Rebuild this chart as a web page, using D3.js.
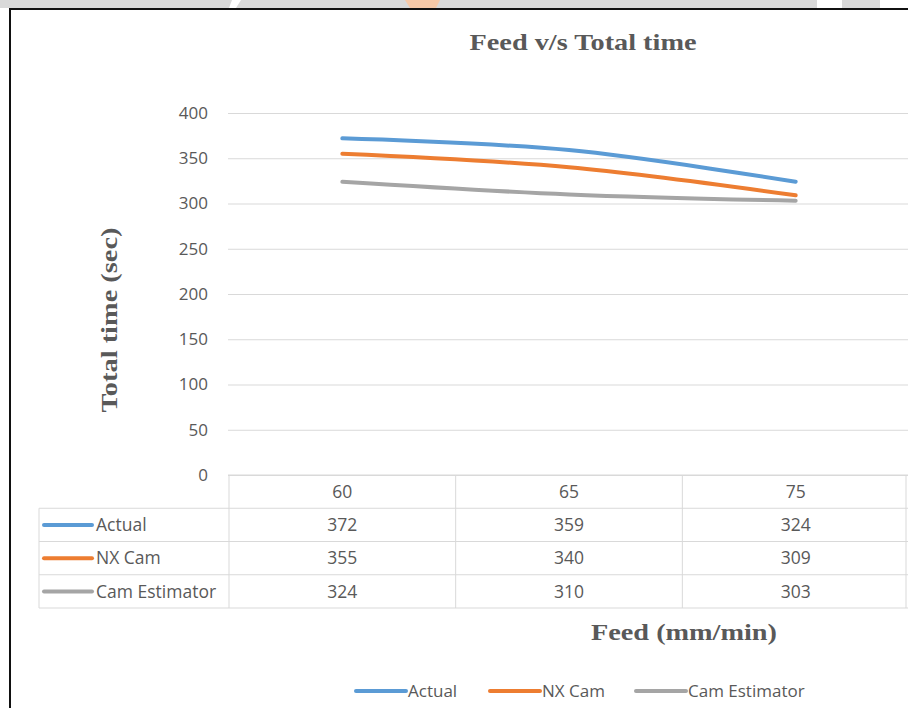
<!DOCTYPE html>
<html>
<head>
<meta charset="utf-8">
<script src="https://cdn.jsdelivr.net/npm/d3@7"></script>
<style>
  body { margin: 0; background: #fff; }
  svg { display: block; }
  .tick text { font-family: "Open Sans", sans-serif; font-size: 17px; fill: #595959; }
</style>
</head>
<body>
<div id="chart"></div>
<script>
const categories = ["60", "65", "75"];
const seriesNames = ["Actual", "NX Cam", "Cam Estimator"];
const actual = [372, 359, 324];
const nxCam = [355, 340, 309];
const camEstimator = [324, 310, 303];
const yTicks = [0, 50, 100, 150, 200, 250, 300, 350, 400];

const series = [
    { name: seriesNames[0], values: actual, color: "#5b9bd5" },
    { name: seriesNames[1], values: nxCam, color: "#ed7d31" },
    { name: seriesNames[2], values: camEstimator, color: "#a5a5a5" }
];

const width = 908;
const height = 708;
const right = 908;

const svg = d3.select("#chart").append("svg")
    .attr("width", width)
    .attr("height", height);

// strip of the page above the chart box
svg.append("rect").attr("x", 0).attr("y", 0).attr("width", width).attr("height", 8).attr("fill", "#d9d9d9");
svg.append("path").attr("d", "M232,0 L241,0 L236,8 L229,8 Z").attr("fill", "#fff");
svg.append("path").attr("d", "M405,0 L440,0 L436,8 L410,8 Z").attr("fill", "#f6c9a8");
svg.append("rect").attr("x", 817).attr("y", 0).attr("width", 25).attr("height", 8).attr("fill", "#fff");
svg.append("rect").attr("x", 880).attr("y", 0).attr("width", 28).attr("height", 8).attr("fill", "#fff");

// chart box border
svg.append("line").attr("x1", 9).attr("x2", width).attr("y1", 9).attr("y2", 9)
    .attr("stroke", "#111").attr("stroke-width", 2);
svg.append("line").attr("x1", 10).attr("x2", 10).attr("y1", 8).attr("y2", height)
    .attr("stroke", "#111").attr("stroke-width", 2);

const x = d3.scaleBand().domain(categories).range([229, 909]);
const y = d3.scaleLinear().domain([0, 400]).range([475, 113]);
const rows = d3.scaleBand().domain(["header"].concat(seriesNames)).range([475, 608]);

const serif = "'Liberation Serif', 'Times New Roman', serif";

// title
svg.append("text")
    .attr("x", 583).attr("y", 50)
    .attr("text-anchor", "middle")
    .attr("textLength", 227).attr("lengthAdjust", "spacingAndGlyphs")
    .style("font-family", serif)
    .style("font-weight", "bold")
    .style("font-size", "24px")
    .style("fill", "#595959")
    .text("Feed v/s Total time");

// y axis with gridlines
const yAxis = svg.append("g")
    .attr("transform", "translate(228,0)")
    .call(d3.axisLeft(y).tickValues(yTicks).tickSize(-(right - 228)).tickPadding(20));
yAxis.select(".domain").remove();
yAxis.selectAll(".tick line").attr("stroke", "#d9d9d9").attr("stroke-width", 1);
yAxis.selectAll(".tick text").attr("dy", "0.32em");

svg.append("text")
    .attr("transform", "translate(117,320) rotate(-90)")
    .attr("text-anchor", "middle")
    .attr("textLength", 185).attr("lengthAdjust", "spacingAndGlyphs")
    .style("font-family", serif)
    .style("font-weight", "bold")
    .style("font-size", "24px")
    .style("fill", "#595959")
    .text("Total time (sec)");

// lines
const line = d3.line()
    .curve(d3.curveCatmullRom)
    .x((d, i) => x(categories[i]) + x.bandwidth() / 2)
    .y(d => y(d));

svg.append("g").selectAll("path")
    .data(series)
    .enter()
    .append("path")
    .attr("d", d => line(d.values))
    .attr("fill", "none")
    .attr("stroke", d => d.color)
    .attr("stroke-width", 4)
    .attr("stroke-linecap", "round");

// data table
const table = svg.append("g");
const gridColor = "#d9d9d9";

// horizontal rules
table.selectAll("line.h")
    .data(rows.domain().concat(["end"]))
    .enter()
    .append("line")
    .attr("x1", (d, i) => i === 0 ? 228 : 39)
    .attr("x2", right)
    .attr("y1", (d, i) => i < rows.domain().length ? rows(d) : rows.range()[1])
    .attr("y2", (d, i) => i < rows.domain().length ? rows(d) : rows.range()[1])
    .attr("stroke", gridColor);

// vertical rules
table.selectAll("line.v")
    .data(categories.concat(["end"]))
    .enter()
    .append("line")
    .attr("x1", d => d === "end" ? x.range()[1] - 3 : x(d))
    .attr("x2", d => d === "end" ? x.range()[1] - 3 : x(d))
    .attr("y1", rows.range()[0])
    .attr("y2", rows.range()[1])
    .attr("stroke", gridColor);
table.append("line")
    .attr("x1", 39).attr("x2", 39)
    .attr("y1", rows(seriesNames[0])).attr("y2", rows.range()[1])
    .attr("stroke", gridColor);

const cellFont = "'Open Sans', sans-serif";

table.selectAll("text.head")
    .data(categories)
    .enter()
    .append("text")
    .attr("x", d => x(d) + x.bandwidth() / 2)
    .attr("y", rows("header") + rows.bandwidth() / 2)
    .attr("dy", "0.35em")
    .attr("text-anchor", "middle")
    .style("font-family", cellFont).style("font-size", "17.5px").style("fill", "#595959")
    .text(d => d);

series.forEach(s => {
    const cy = rows(s.name) + rows.bandwidth() / 2;
    table.append("line")
        .attr("x1", 44).attr("x2", 92)
        .attr("y1", cy).attr("y2", cy)
        .attr("stroke", s.color).attr("stroke-width", 4).attr("stroke-linecap", "round");
    table.append("text")
        .attr("x", 96).attr("y", cy).attr("dy", "0.35em")
        .style("font-family", cellFont).style("font-size", "17.5px").style("fill", "#595959")
        .text(s.name);
    table.selectAll(null)
        .data(s.values)
        .enter()
        .append("text")
        .attr("x", (d, i) => x(categories[i]) + x.bandwidth() / 2)
        .attr("y", cy).attr("dy", "0.35em")
        .attr("text-anchor", "middle")
        .style("font-family", cellFont).style("font-size", "17.5px").style("fill", "#595959")
        .text(d => d);
});

// x axis title
svg.append("text")
    .attr("x", 684).attr("y", 640)
    .attr("text-anchor", "middle")
    .attr("textLength", 186).attr("lengthAdjust", "spacingAndGlyphs")
    .style("font-family", serif)
    .style("font-weight", "bold")
    .style("font-size", "24px")
    .style("fill", "#595959")
    .text("Feed (mm/min)");

// legend
const legendX = [356, 490, 636];
const legend = svg.append("g").selectAll("g")
    .data(series)
    .enter()
    .append("g")
    .attr("transform", (d, i) => `translate(${legendX[i]},691)`);
legend.append("line")
    .attr("x1", 0).attr("x2", 50)
    .attr("stroke", d => d.color).attr("stroke-width", 4).attr("stroke-linecap", "round");
legend.append("text")
    .attr("x", 52).attr("dy", "0.35em")
    .style("font-family", cellFont).style("font-size", "17px").style("fill", "#595959")
    .text(d => d.name);
</script>
</body>
</html>
